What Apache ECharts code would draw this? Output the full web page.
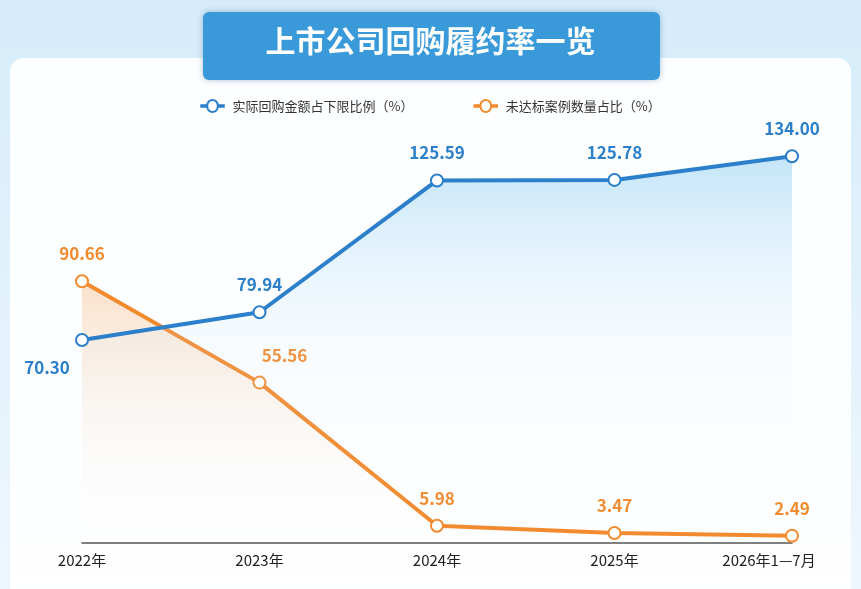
<!DOCTYPE html>
<html><head><meta charset="utf-8">
<script src="https://cdn.jsdelivr.net/npm/echarts@6/dist/echarts.min.js"></script>
<style>html,body{margin:0;padding:0;}#c{width:861px;height:589px;}</style>
</head><body><div id="c"></div>
<script>
var categories = ['2022年', '2023年', '2024年', '2025年', '2026年1—7月'];
var buybackRatio = [70.30, 79.94, 125.59, 125.78, 134.00];
var missRatio = [90.66, 55.56, 5.98, 3.47, 2.49];

var chart = echarts.init(document.getElementById('c'));
var font = '"Noto Sans CJK SC", sans-serif';

var option = {
    backgroundColor: new echarts.graphic.LinearGradient(0, 0, 0, 1, [
        {offset: 0, color: '#d6ecfa'}, {offset: 1, color: '#eef7fd'}]),
    graphic: [
        {type: 'rect', left: 10, top: 58, shape: {width: 841, height: 560, r: 14}, style: {fill: '#ffffff', opacity: 0.9}, z: -1},
        {type: 'rect', left: 203, top: 12, shape: {width: 457, height: 68, r: 6},
            style: {fill: '#3a9ad9', shadowBlur: 6, shadowColor: 'rgba(0,60,120,0.3)'}},
        {type: 'text', left: 'center', top: 26, style: {text: '上市公司回购履约率一览', fill: '#fff', font: 'bold 30px ' + font}}
    ],
    legend: {
        top: 94, left: 'center', itemGap: 60, itemWidth: 30, itemHeight: 12,
        textStyle: {fontFamily: font, fontSize: 13, color: '#333'},
        data: [
            {name: '实际回购金额占下限比例（%）', icon: 'path://M0,5 L8,5 A5,5 0 1 1 22,5 L30,5 L30,7 L22,7 A5,5 0 1 1 8,7 L0,7 Z'},
            {name: '未达标案例数量占比（%）', icon: 'path://M0,5 L8,5 A5,5 0 1 1 22,5 L30,5 L30,7 L22,7 A5,5 0 1 1 8,7 L0,7 Z'}
        ]
    },
    grid: {left: 82, right: 69, top: 110, bottom: 46},
    xAxis: {
        type: 'category', data: categories, boundaryGap: false,
        axisLine: {lineStyle: {color: '#555', width: 1.5}}, axisTick: {show: false},
        axisLabel: {fontFamily: font, fontSize: 15, color: '#222', margin: 10,
            formatter: function (v, i) { return i === categories.length - 1 ? '{last|' + v + '}' : v; },
            rich: {last: {fontFamily: font, fontSize: 15, color: '#222', padding: [0, 46, 0, 0]}}}
    },
    yAxis: {type: 'value', min: 0, max: 150, show: false, splitLine: {show: false}},
    series: [
        {
            name: '实际回购金额占下限比例（%）', type: 'line', data: buybackRatio,
            symbol: 'circle', symbolSize: 12, color: '#2b7fcb',
            lineStyle: {width: 4, color: '#2b7fcb'},
            itemStyle: {color: '#fff', borderColor: '#2b7fcb', borderWidth: 2},
            areaStyle: {color: new echarts.graphic.LinearGradient(0, 0, 0, 1, [
                {offset: 0, color: 'rgba(120,195,240,0.6)'}, {offset: 0.5, color: 'rgba(200,230,250,0.15)'}, {offset: 1, color: 'rgba(255,255,255,0)'}])},
            label: {show: true, position: 'top', distance: 12, color: '#2b7fcb', fontFamily: font, fontSize: 17, fontWeight: 'bold',
                formatter: function (p) { return p.value.toFixed(2); }},
            labelLayout: function (p) { return p.dataIndex === 0 ? {dx: -35, dy: 55} : {}; },
            z: 3
        },
        {
            name: '未达标案例数量占比（%）', type: 'line', data: missRatio,
            symbol: 'circle', symbolSize: 12, color: '#f28a2e',
            lineStyle: {width: 4, color: '#f28a2e'},
            itemStyle: {color: '#fff', borderColor: '#f28a2e', borderWidth: 2},
            areaStyle: {color: new echarts.graphic.LinearGradient(0, 0, 0, 1, [
                {offset: 0, color: 'rgba(245,160,90,0.45)'}, {offset: 0.6, color: 'rgba(250,210,170,0.15)'}, {offset: 1, color: 'rgba(255,255,255,0)'}])},
            label: {show: true, position: 'top', distance: 12, color: '#f28a2e', fontFamily: font, fontSize: 17, fontWeight: 'bold',
                formatter: function (p) { return p.value.toFixed(2); }},
            labelLayout: function (p) { return p.dataIndex === 1 ? {dx: 25} : {}; },
            z: 2
        }
    ]
};
chart.setOption(option);
</script></body></html>
